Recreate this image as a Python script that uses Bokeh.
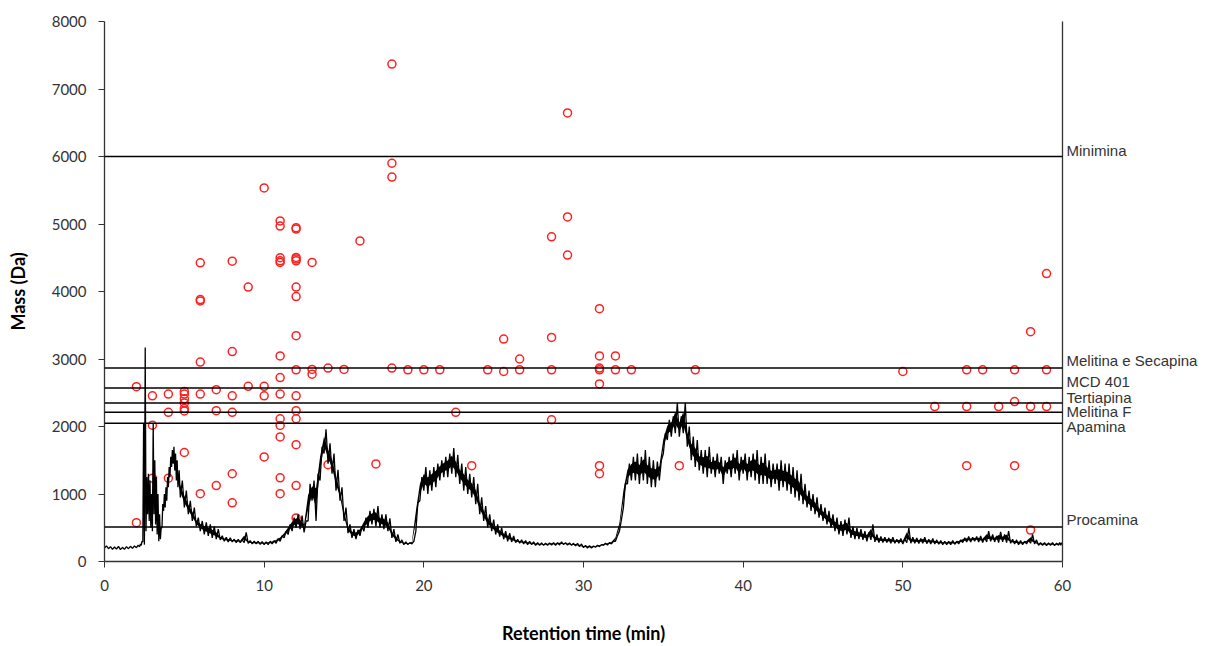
from bokeh.plotting import figure
from bokeh.models import Span, LinearAxis, FixedTicker, ColumnDataSource
from bokeh.embed import file_html
from bokeh.resources import INLINE

# ---------------- data ----------------
x_ticks = [0, 10, 20, 30, 40, 50, 60]
y_ticks = [0, 1000, 2000, 3000, 4000, 5000, 6000, 7000, 8000]

# reference peptide masses (horizontal lines) and their labels
line_names = ["Minimina", "Melitina e Secapina", "MCD 401", "Tertiapina",
              "Melitina F", "Apamina", "Procamina"]
line_mass = [6000, 2865, 2570, 2350, 2210, 2050, 510]
label_mid = [6095, 2985, 2665, 2435, 2215, 2005, 620]

# detected masses (red circles)
pt_time = ([2, 2] + [3, 3, 3] + [4, 4, 4] + [5] * 7 + [6] * 6 + [7] * 3 + [8] * 6
           + [9, 9] + [10] * 4 + [11] * 13 + [12] * 15 + [13] * 3 + [14, 14] + [15]
           + [16] + [17] + [18] * 4 + [19] + [20] + [21] + [22] + [23] + [24]
           + [25, 25] + [26, 26] + [28] * 4 + [29] * 3 + [31] * 7 + [32, 32] + [33]
           + [36] + [37] + [50] + [52] + [54] * 3 + [55] + [56] + [57] * 3
           + [58] * 3 + [59] * 3)
pt_mass = ([2590, 575]
           + [2455, 2020, 1235]
           + [2480, 2210, 1235]
           + [2520, 2480, 2410, 2350, 2265, 2230, 1615]
           + [4425, 3880, 3860, 2955, 2480, 1005]
           + [2545, 2235, 1125]
           + [4450, 3110, 2455, 2210, 1300, 870]
           + [4065, 2595]
           + [5535, 2595, 2455, 1550]
           + [5045, 4970, 4500, 4455, 4430, 3045, 2725, 2480, 2115, 2015, 1845, 1240, 1005]
           + [4945, 4925, 4505, 4480, 4455, 4065, 3925, 3345, 2840, 2455, 2235, 2115, 1730, 1125, 645]
           + [4430, 2845, 2775]
           + [2865, 1435]
           + [2845]
           + [4750]
           + [1445]
           + [7370, 5900, 5695, 2865]
           + [2840] + [2840] + [2840] + [2210] + [1420] + [2840]
           + [3295, 2815]
           + [3000, 2840]
           + [4810, 3320, 2840, 2100]
           + [6645, 5105, 4540]
           + [3745, 3045, 2865, 2840, 2630, 1420, 1300]
           + [3045, 2840]
           + [2840]
           + [1420]
           + [2840]
           + [2815]
           + [2295]
           + [2840, 2295, 1420]
           + [2840]
           + [2295]
           + [2840, 2370, 1420]
           + [3405, 2295, 465]
           + [4265, 2840, 2295])

# chromatogram trace: time, lower and upper envelope of the noisy signal
trace_t = [0.0, 0.25, 0.5, 0.75, 1.0, 1.25, 1.5, 1.75, 2.0, 2.2, 2.3, 2.4, 2.5, 2.6, 2.7,
           2.8, 2.9, 3.0, 3.1, 3.2, 3.3, 3.4, 3.5, 3.6, 3.7, 3.8, 3.9, 4.0, 4.1, 4.2,
           4.3, 4.4, 4.5, 4.6, 4.75, 5.0, 5.25, 5.5, 5.75, 6.0, 6.25, 6.5, 6.75, 7.0,
           7.25, 7.5, 7.75, 8.0, 8.25, 8.5, 8.75, 9.0, 9.25, 9.5, 9.75, 10.0, 10.25,
           10.5, 10.75, 11.0, 11.25, 11.5, 11.75, 12.0, 12.25, 12.5, 12.75, 13.0,
           13.25, 13.5, 13.75, 14.0, 14.25, 14.5, 14.75, 15.0, 15.25, 15.5, 15.75,
           16.0, 16.25, 16.5, 16.75, 17.0, 17.25, 17.5, 17.75, 18.0, 18.25, 18.5,
           18.75, 19.0, 19.25, 19.5, 19.75, 20.0, 20.25, 20.5, 20.75, 21.0, 21.25,
           21.5, 21.75, 22.0, 22.25, 22.5, 22.75, 23.0, 23.25, 23.5, 23.75, 24.0,
           24.25, 24.5, 24.75, 25.0, 25.25, 25.5, 25.75, 26.0, 26.25, 26.5, 26.75,
           27.0, 27.25, 27.5, 27.75, 28.0, 28.25, 28.5, 28.75, 29.0, 29.25, 29.5,
           29.75, 30.0, 30.25, 30.5, 30.75, 31.0, 31.25, 31.5, 31.75, 32.0, 32.25,
           32.5, 32.75, 33.0, 33.25, 33.5, 33.75, 34.0, 34.25, 34.5, 34.75, 35.0,
           35.25, 35.5, 35.75, 36.0, 36.25, 36.5, 36.75, 37.0, 37.25, 37.5, 37.75,
           38.0, 38.25, 38.5, 38.75, 39.0, 39.25, 39.5, 39.75, 40.0, 40.25, 40.5,
           40.75, 41.0, 41.25, 41.5, 41.75, 42.0, 42.25, 42.5, 42.75, 43.0, 43.25,
           43.5, 43.75, 44.0, 44.25, 44.5, 44.75, 45.0, 45.25, 45.5, 45.75, 46.0,
           46.25, 46.5, 46.75, 47.0, 47.25, 47.5, 47.75, 48.0, 48.25, 48.5, 48.75,
           49.0, 49.25, 49.5, 49.75, 50.0, 50.25, 50.5, 50.75, 51.0, 51.25, 51.5,
           51.75, 52.0, 52.25, 52.5, 52.75, 53.0, 53.25, 53.5, 53.75, 54.0, 54.25,
           54.5, 54.75, 55.0, 55.25, 55.5, 55.75, 56.0, 56.25, 56.5, 56.75, 57.0,
           57.25, 57.5, 57.75, 58.0, 58.25, 58.5, 58.75, 59.0, 59.25, 59.5, 59.75,
           59.9]
trace_lo = [200, 190, 180, 185, 175, 180, 190, 195, 205, 220, 240, 290, 250, 450, 700,
            600, 500, 450, 700, 550, 400, 300, 330, 500, 750, 800, 900, 1100, 1250, 1400,
            1450, 1350, 1200, 1100, 950, 800, 700, 600, 520, 450, 400, 380, 350, 330,
            320, 300, 290, 290, 280, 280, 280, 270, 260, 260, 255, 250, 250,
            260, 270, 300, 350, 400, 450, 500, 480, 430, 600, 900,
            600, 1200, 1600, 1450, 1300, 1050, 900, 600, 420, 350, 330,
            380, 450, 500, 550, 520, 500, 480, 450, 350, 290, 270,
            250, 250, 260, 450, 900, 1050, 1000, 1050, 1100, 1200, 1250,
            1250, 1300, 1250, 1150, 1050, 1000, 950, 850, 700, 600, 500,
            450, 400, 370, 330, 300, 290, 280, 270, 260, 250, 250,
            240, 240, 240, 240, 245, 240, 245, 250, 245, 240, 230,
            220, 205, 200, 200, 210, 220, 240, 245, 260, 300, 450,
            800, 1150, 1200, 1200, 1150, 1200, 1150, 1100, 1100, 1200, 1600,
            1800, 1850, 1900, 1850, 1900, 1700, 1500, 1400, 1350, 1300, 1250,
            1300, 1250, 1300, 1150, 1300, 1250, 1300, 1200, 1300, 1200, 1250,
            1200, 1150, 1150, 1150, 1100, 1150, 1050, 1100, 1050, 1000, 950,
            900, 850, 800, 750, 700, 650, 600, 550, 500, 450, 400,
            380, 400, 350, 330, 330, 320, 300, 320, 290, 280, 280,
            280, 270, 270, 270, 260, 280, 270, 270, 265, 270, 265,
            260, 260, 255, 250, 250, 250, 255, 260, 280, 290, 290,
            300, 290, 280, 290, 300, 290, 280, 290, 280, 270, 260,
            250, 250, 260, 270, 260, 240, 240, 235, 240, 235, 240,
            240]
trace_hi = [230, 220, 215, 225, 210, 220, 225, 230, 240, 260, 300, 2050, 3170, 1250, 1300,
            1200, 1000, 2050, 1500, 1250, 1000, 700, 500, 850, 1000, 1100, 1250, 1400, 1550, 1650,
            1700, 1600, 1500, 1350, 1200, 1050, 900, 800, 650, 600, 580, 550, 520, 480,
            380, 360, 350, 330, 330, 320, 430, 310, 300, 300, 295, 290, 300,
            310, 340, 380, 450, 550, 650, 700, 680, 600, 1150, 1200,
            1300, 1700, 1960, 1750, 1600, 1360, 1100, 800, 550, 480, 470,
            520, 650, 750, 780, 820, 700, 700, 640, 480, 400, 320,
            290, 280, 300, 870, 1250, 1400, 1350, 1400, 1450, 1500, 1550,
            1600, 1680, 1580, 1450, 1400, 1300, 1250, 1150, 950, 820, 700,
            620, 550, 500, 450, 420, 380, 330, 320, 310, 300, 290,
            280, 275, 270, 275, 280, 280, 290, 280, 275, 270, 270,
            260, 240, 235, 230, 240, 250, 270, 280, 300, 380, 620,
            1160, 1450, 1550, 1600, 1550, 1650, 1550, 1500, 1480, 1500, 1900,
            2100, 2150, 2350, 2150, 2350, 2000, 1850, 1800, 1650, 1650, 1700,
            1550, 1600, 1550, 1500, 1550, 1600, 1650, 1550, 1600, 1550, 1600,
            1650, 1550, 1600, 1500, 1450, 1450, 1500, 1450, 1450, 1400, 1350,
            1300, 1150, 1050, 1000, 950, 850, 800, 750, 700, 650, 600,
            620, 650, 520, 500, 480, 450, 430, 550, 400, 370, 360,
            350, 360, 330, 340, 330, 500, 360, 350, 340, 360, 330,
            340, 320, 310, 300, 300, 310, 300, 320, 350, 370, 360,
            370, 380, 360, 450, 400, 380, 440, 400, 450, 330, 320,
            310, 300, 320, 400, 320, 280, 280, 275, 280, 270, 280,
            280]

# ---------------- build the zig-zag signal from the envelopes ----------------
sig_x, sig_y = [], []
for i in range(len(trace_t)):
    h = (trace_t[i + 1] - trace_t[i]) / 2 if i < len(trace_t) - 1 else 0.05
    sig_x += [trace_t[i], trace_t[i] + h]
    sig_y += [trace_lo[i], trace_hi[i]]

# dense core of the noisy band (inner half of the envelope), after the early spikes
k0 = trace_t.index(4.6)
band_t = trace_t[k0:]
band_lo = [lo + (hi - lo) * 0.3 for lo, hi in zip(trace_lo[k0:], trace_hi[k0:])]
band_hi = [hi - (hi - lo) * 0.3 for lo, hi in zip(trace_lo[k0:], trace_hi[k0:])]

# ---------------- figure ----------------
p = figure(width=1207, height=646, x_range=(0, 60), y_range=(0, 8000),
           output_backend="svg", toolbar_location=None,
           min_border_left=104, min_border_right=145, min_border_top=21,
           min_border_bottom=84)
p.background_fill_color = "white"
p.border_fill_color = "white"
p.outline_line_color = None
p.grid.grid_line_color = None

for ax in (p.xaxis[0], p.yaxis[0]):
    ax.axis_line_color = "#333333"
    ax.axis_line_width = 1.3
    ax.major_tick_line_color = "#333333"
    ax.major_tick_in = 0
    ax.major_tick_out = 6
    ax.minor_tick_line_color = None
    ax.major_label_text_font = "Lato"
    ax.major_label_text_font_size = "15px"
    ax.major_label_text_color = "#333333"
    ax.axis_label_text_font = "Lato"
    ax.axis_label_text_font_style = "bold"
    ax.axis_label_text_font_size = "18px"
    ax.axis_label_text_color = "#000000"
    ax.major_label_standoff = 12

p.xaxis.ticker = FixedTicker(ticks=x_ticks)
p.yaxis.ticker = FixedTicker(ticks=y_ticks)
p.xaxis.axis_label = "Retention time (min)"
p.yaxis.axis_label = "Mass (Da)"
p.xaxis.axis_label_standoff = 28
p.yaxis.axis_label_standoff = 20

# right-hand border carrying the peptide names
right_ax = LinearAxis(ticker=FixedTicker(ticks=label_mid),
                      axis_line_color="#333333", axis_line_width=1.3,
                      major_tick_line_color=None, minor_tick_line_color=None,
                      major_tick_in=0, major_tick_out=0,
                      major_label_standoff=4,
                      major_label_text_font="Liberation Sans",
                      major_label_text_font_size="15px",
                      major_label_text_color="#333333",
                      major_label_overrides={v: n for v, n in zip(label_mid, line_names)})
p.add_layout(right_ax, "right")

# horizontal reference lines
for m in line_mass:
    p.add_layout(Span(location=m, dimension="width", line_color="black", line_width=1.5))

# red circles
src = ColumnDataSource(dict(t=pt_time, m=pt_mass))
p.scatter("t", "m", source=src, marker="circle", size=8, fill_color=None,
          line_color="#ff2020", line_width=1.5)

# chromatogram
p.varea(x=band_t, y1=band_lo, y2=band_hi, fill_color="black")
p.line(sig_x, sig_y, line_color="black", line_width=1.3)

open("out.html", "w").write(file_html(p, INLINE))
